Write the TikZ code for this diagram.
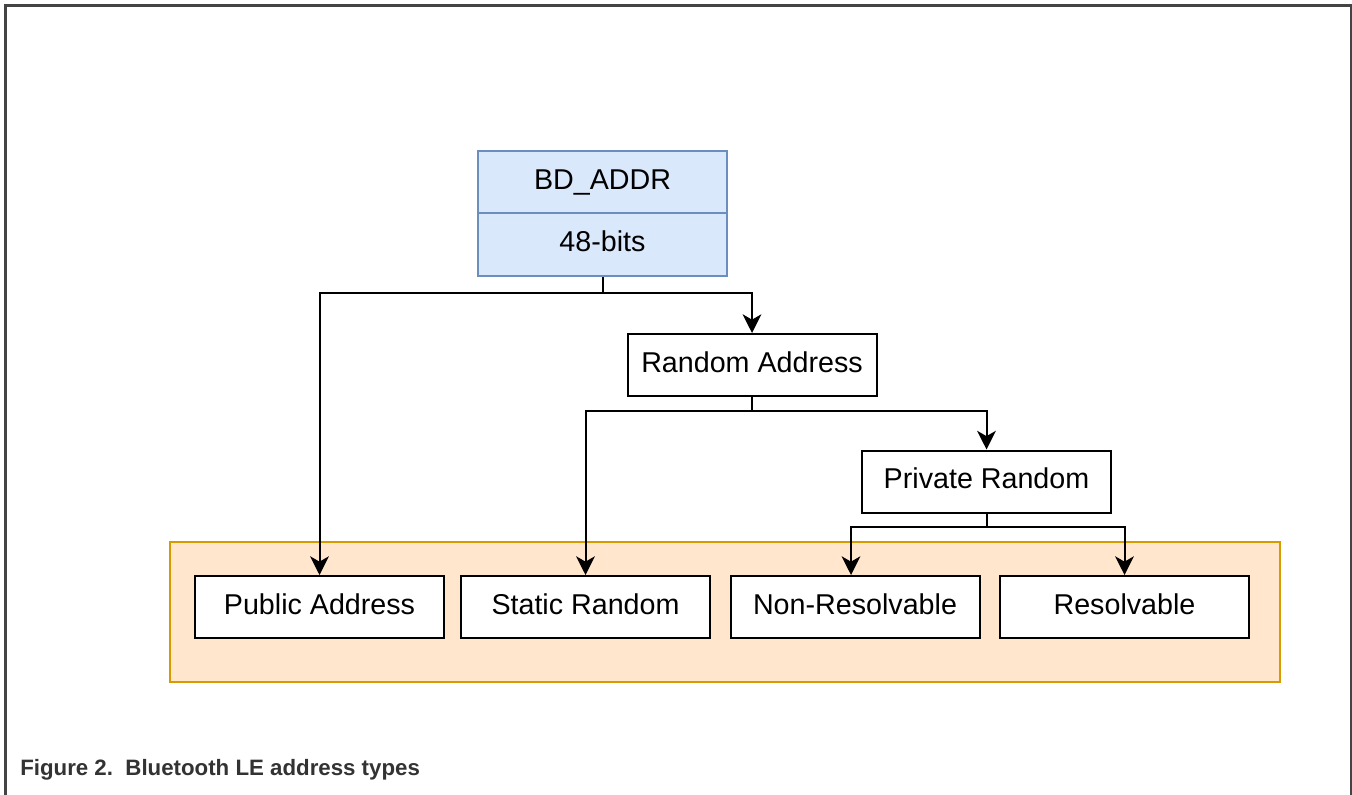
\documentclass[tikz,border=0pt]{standalone}
\usepackage{fontspec}
\setmainfont{Liberation Sans}
\usetikzlibrary{arrows.meta}
\definecolor{framegray}{HTML}{444444}
\definecolor{captiongray}{HTML}{333333}
\definecolor{bluefill}{HTML}{DAE8FC}
\definecolor{bluedraw}{HTML}{6C8EBF}
\definecolor{orangefill}{HTML}{FFE6CC}
\definecolor{orangedraw}{HTML}{D79B00}
\begin{document}
\begin{tikzpicture}[x=0.75pt,y=-0.75pt,
  box/.style={draw=black, line width=1.5pt, fill=white,
    minimum width=186.75pt, minimum height=46.5pt, inner sep=0pt,
    text height=16pt, text depth=5pt,
    font=\fontsize{21.5}{25}\selectfont},
  bluebox/.style={box, draw=bluedraw, fill=bluefill},
  groupbox/.style={draw=orangedraw, fill=orangefill, line width=1.5pt,
    minimum width=832.5pt, minimum height=105pt, inner sep=0pt},
  link/.style={draw=black, line width=1.5pt,
    -{Stealth[length=14pt, width=14pt, inset=4pt]}}
]
\useasboundingbox (0,0) rectangle (1352,795);
\fill[white] (0,0) rectangle (1352,795);

% page frame
\draw[framegray, line width=2.25pt] (5,800) -- (5,6) -- (1351,6) -- (1351,800);

% leaf group
\node[groupbox] (grp) at (725,612) {};

% address record
\node[bluebox] (bdtop) at (602.5,182) {BD\_ADDR};
\node[bluebox, minimum height=47.25pt] (bdbits) at (602.5,244.5) {48-bits};

% tree nodes
\node[box] (rand) at (752,365) {Random Address};
\node[box] (priv) at (986.5,481.5) {Private Random};
\node[box] (pub) at (319.5,607) {Public Address};
\node[box] (stat) at (585.5,607) {Static Random};
\node[box] (nonres) at (855,607) {Non-Resolvable};
\node[box] (res) at (1124.5,607) {Resolvable};

% connectors
\draw[link] (bdbits.south) -- ++(0,16) -| (pub.north);
\draw[link] (bdbits.south) -- ++(0,16) -| (rand.north);
\draw[link] (rand.south) -- ++(0,14) -| (stat.north);
\draw[link] (rand.south) -- ++(0,14) -| (priv.north);
\draw[link] (priv.south) -- ++(0,13) -| ([xshift=-3pt]nonres.north);
\draw[link] (priv.south) -- ++(0,13) -| (res.north);

% caption
\node[anchor=base west, inner sep=0pt, text=captiongray,
  font=\fontsize{16.7}{20}\selectfont\bfseries] (cap) at (20,775)
  {Figure 2.\ \ Bluetooth LE address types};
\end{tikzpicture}
\end{document}
